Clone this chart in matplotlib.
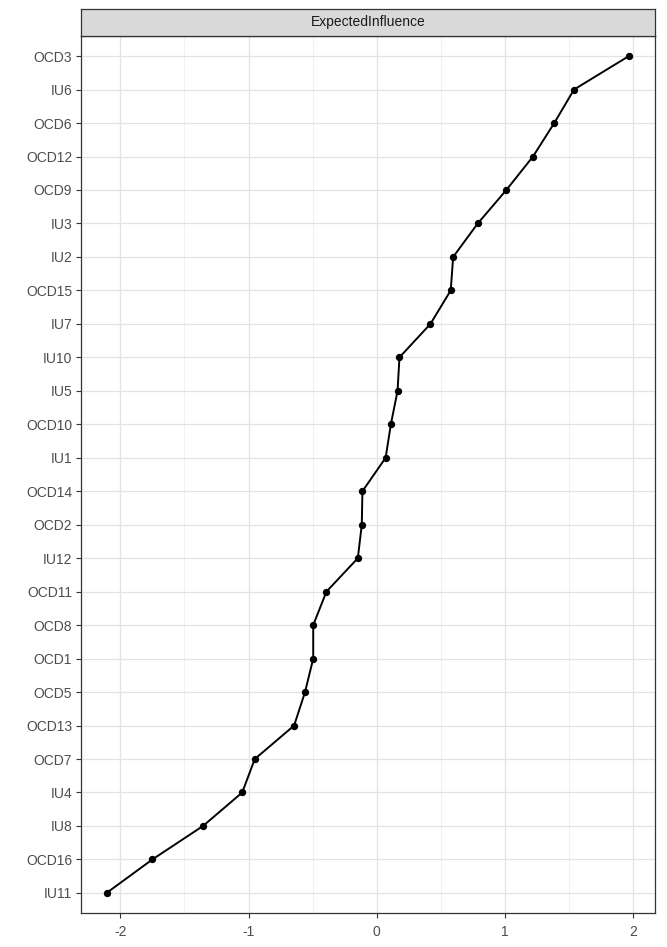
import matplotlib
matplotlib.use("Agg")
import matplotlib.pyplot as plt
from matplotlib.ticker import MultipleLocator

# nodes from bottom to top
nodes = ["IU11", "OCD16", "IU8", "IU4", "OCD7", "OCD13", "OCD5", "OCD1", "OCD8",
         "OCD11", "IU12", "OCD2", "OCD14", "IU1", "OCD10", "IU5", "IU10", "IU7",
         "OCD15", "IU2", "IU3", "OCD9", "OCD12", "OCD6", "IU6", "OCD3"]
expected_influence = [-2.107, -1.750, -1.355, -1.049, -0.951, -0.644, -0.559, -0.495, -0.495,
                      -0.392, -0.147, -0.116, -0.111, 0.070, 0.111, 0.163, 0.178, 0.420,
                      0.578, 0.597, 0.789, 1.012, 1.220, 1.386, 1.540, 1.968]
strip_label = "ExpectedInfluence"
x_ticks = [-2, -1, 0, 1, 2]

plt.rcParams['font.family'] = ['Liberation Sans', 'DejaVu Sans']

W, H = 667, 947
fig = plt.figure(figsize=(W / 100, H / 100), dpi=100)

# panel
ax = fig.add_axes([80.5 / W, (H - 913) / H, (655 - 80.5) / W, (913 - 36) / H])
ypos = list(range(1, len(nodes) + 1))
ax.plot(expected_influence, ypos, color="black", lw=1.4, zorder=3)
ax.scatter(expected_influence, ypos, s=28, color="black", zorder=4, linewidths=0)

ax.set_xlim(-2.311, 2.172)
ax.set_ylim(0.4, len(nodes) + 0.6)
ax.set_xticks(x_ticks)
ax.set_xticklabels([str(t) for t in x_ticks])
ax.xaxis.set_minor_locator(MultipleLocator(0.5))
ax.set_yticks(ypos)
ax.set_yticklabels(nodes)

ax.grid(which="major", color="#e3e3e3", lw=0.9, zorder=0)
ax.grid(which="minor", axis="x", color="#efefef", lw=0.6, zorder=0)
ax.set_axisbelow(True)
ax.tick_params(axis="both", which="major", colors="#333333", labelcolor="#4d4d4d",
               labelsize=10, length=3.5, width=0.8, pad=2.5)
ax.tick_params(axis="x", which="major", pad=5)
ax.tick_params(axis="x", which="minor", length=0)
for s in ax.spines.values():
    s.set_color("#333333")
    s.set_linewidth(0.9)

# facet strip
sax = fig.add_axes([80.5 / W, (H - 36) / H, (655 - 80.5) / W, 27 / H])
sax.set_facecolor("#d9d9d9")
sax.set_xticks([])
sax.set_yticks([])
for s in sax.spines.values():
    s.set_color("#333333")
    s.set_linewidth(0.9)
sax.text(0.5, 0.5, strip_label, ha="center", va="center", fontsize=10,
         color="#1a1a1a", transform=sax.transAxes)

fig.savefig("out.png", dpi=100, facecolor="white")
